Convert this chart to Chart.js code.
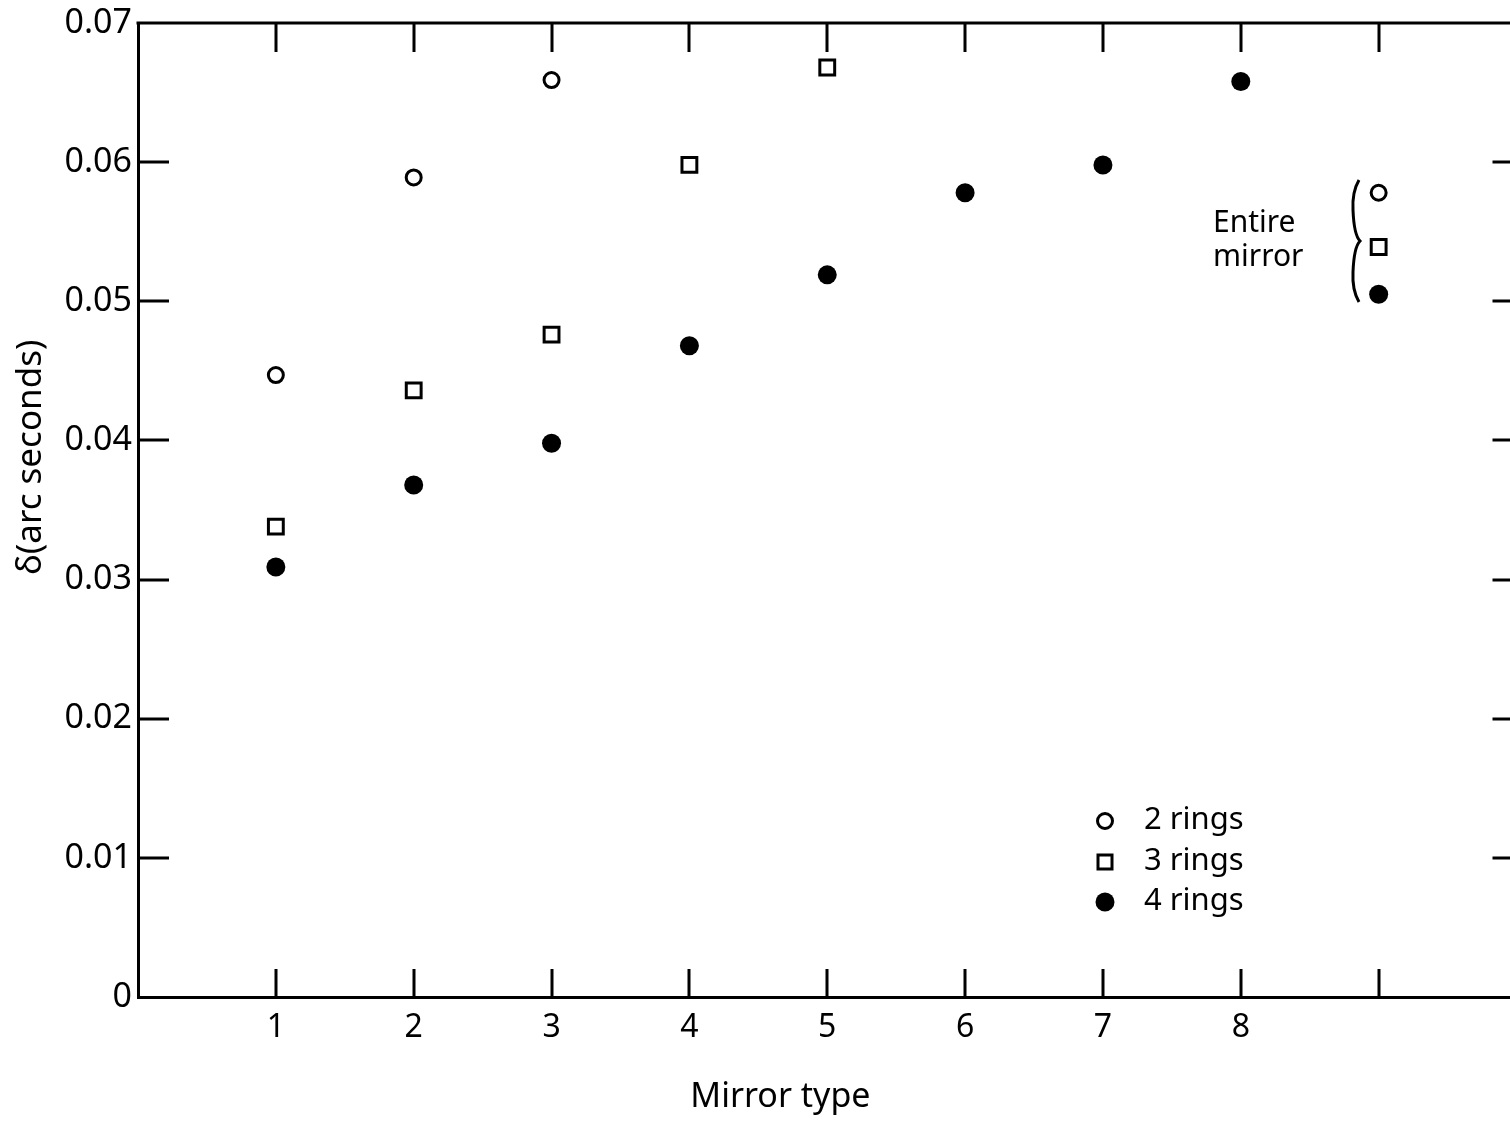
<!DOCTYPE html>
<html>
<head>
<meta charset="utf-8">
<script src="https://cdn.jsdelivr.net/npm/chart.js@4/dist/chart.umd.min.js"></script>
<style>
  html, body { margin: 0; padding: 0; background: #fff; overflow: hidden; width: 1510px; height: 1121px; }
  #wrap { position: absolute; left: 0; top: 0; width: 1530px; height: 1121px; }
</style>
</head>
<body>
<div id="wrap"><canvas id="c" width="1530" height="1121"></canvas></div>
<script>
// ---- data ----
const xTickLabels = ['1', '2', '3', '4', '5', '6', '7', '8'];
const xTickPositions = [1, 2, 3, 4, 5, 6, 7, 8, 9];
const yTickValues = [0, 0.01, 0.02, 0.03, 0.04, 0.05, 0.06, 0.07];

const mirrorTypes2 = [1, 2, 3, 9];
const rings2 = [0.0447, 0.0589, 0.0659, 0.0578];

const mirrorTypes3 = [1, 2, 3, 4, 5, 9];
const rings3 = [0.0338, 0.0436, 0.0476, 0.0598, 0.0668, 0.0539];

const mirrorTypes4 = [1, 2, 3, 4, 5, 6, 7, 8, 9];
const rings4 = [0.0309, 0.0368, 0.0398, 0.0468, 0.0519, 0.0578, 0.0598, 0.0658, 0.0505];

const seriesNames = ['2 rings', '3 rings', '4 rings'];
const entireLabel = ['Entire', 'mirror'];
const xTitle = 'Mirror type';
const yTitle = 'δ(arc seconds)';

const FONT = '"Noto Sans", "DejaVu Sans", sans-serif';
const pts = (xs, ys) => xs.map((x, i) => ({ x: x, y: ys[i] }));

const decor = {
  id: 'decor',
  afterDraw(chart) {
    const ctx = chart.ctx;
    const xs = chart.scales.x, ys = chart.scales.y;
    const a = chart.chartArea;
    ctx.save();
    ctx.strokeStyle = '#000';
    ctx.fillStyle = '#000';
    ctx.lineCap = 'butt';
    // top border
    ctx.lineWidth = 3;
    ctx.beginPath();
    ctx.moveTo(a.left - 1.5, a.top);
    ctx.lineTo(a.right, a.top);
    ctx.stroke();
    // x ticks (inward, top and bottom)
    xTickPositions.forEach(v => {
      const px = Math.round(xs.getPixelForValue(v));
      ctx.beginPath();
      ctx.moveTo(px, a.top); ctx.lineTo(px, a.top + 29);
      ctx.moveTo(px, a.bottom); ctx.lineTo(px, a.bottom - 28);
      ctx.stroke();
    });
    // y ticks (inward, left and right)
    yTickValues.forEach(v => {
      if (v <= 0 || v >= 0.07) return;
      const py = Math.round(ys.getPixelForValue(v));
      ctx.beginPath();
      ctx.moveTo(a.left, py); ctx.lineTo(a.left + 31, py);
      ctx.moveTo(a.right, py); ctx.lineTo(a.right - 24, py);
      ctx.stroke();
    });
    // x title
    ctx.font = '34px ' + FONT;
    ctx.textAlign = 'center';
    ctx.textBaseline = 'middle';
    ctx.fillText(xTitle, xs.getPixelForValue(4.66), 1097);
    // y title
    ctx.save();
    ctx.translate(31, ys.getPixelForValue(0.0388));
    ctx.rotate(-Math.PI / 2);
    ctx.font = '35px ' + FONT;
    ctx.fillText(yTitle, 0, 0);
    ctx.restore();

    // legend
    const lx = 1105;
    const ly = [821, 862, 902];
    ctx.lineWidth = 3;
    ctx.beginPath(); ctx.arc(lx, ly[0], 7.5, 0, Math.PI * 2); ctx.stroke();
    ctx.strokeRect(lx - 7, ly[1] - 7, 14, 14);
    ctx.beginPath(); ctx.arc(lx, ly[2], 9.5, 0, Math.PI * 2); ctx.fill();
    ctx.font = '31px ' + FONT;
    ctx.textAlign = 'left';
    seriesNames.forEach((s, i) => ctx.fillText(s, 1144, ly[i] - 1));

    // Entire mirror label
    ctx.font = '30px ' + FONT;
    ctx.fillText(entireLabel[0], 1213, 223);
    ctx.fillText(entireLabel[1], 1213, 257);
    // brace
    ctx.lineWidth = 3;
    ctx.beginPath();
    const bx = 1353, bt = 180, bb = 302, bm = 241;
    ctx.moveTo(bx + 6, bt);
    ctx.quadraticCurveTo(bx - 1, bt + 12, bx, bt + 30);
    ctx.quadraticCurveTo(bx + 1, bm - 6, bx + 7, bm);
    ctx.quadraticCurveTo(bx + 1, bm + 6, bx, bb - 30);
    ctx.quadraticCurveTo(bx - 1, bb - 12, bx + 6, bb);
    ctx.stroke();
    ctx.restore();
  }
};

new Chart(document.getElementById('c'), {
  type: 'scatter',
  data: {
    datasets: [
      { label: seriesNames[0], data: pts(mirrorTypes2, rings2), pointStyle: 'circle', pointRadius: 7.5,
        pointBorderWidth: 3, pointBorderColor: '#000', pointBackgroundColor: '#fff' },
      { label: seriesNames[1], data: pts(mirrorTypes3, rings3), pointStyle: 'rect', pointRadius: 10.5,
        pointBorderWidth: 3, pointBorderColor: '#000', pointBackgroundColor: '#fff' },
      { label: seriesNames[2], data: pts(mirrorTypes4, rings4), pointStyle: 'circle', pointRadius: 9.5,
        pointBorderWidth: 0, pointBorderColor: '#000', pointBackgroundColor: '#000' }
    ]
  },
  options: {
    responsive: false,
    animation: false,
    devicePixelRatio: 1,
    layout: { padding: { top: 20, right: 12, left: 0, bottom: 0 } },
    plugins: { legend: { display: false }, tooltip: { enabled: false } },
    scales: {
      x: {
        type: 'linear', min: 0, max: 10,
        afterFit(s) { s.height = 124; },
        grid: { display: false, drawTicks: false },
        border: { display: true, color: '#000', width: 3 },
        ticks: {
          stepSize: 1, padding: 12, color: '#000',
          font: { family: FONT, size: 32 },
          callback: (v) => (v >= 1 && v <= xTickLabels.length) ? xTickLabels[v - 1] : ''
        }
      },
      y: {
        type: 'linear', min: 0, max: 0.07,
        afterFit(s) { s.width = 138; },
        grid: { display: false, drawTicks: false },
        border: { display: true, color: '#000', width: 3 },
        ticks: {
          stepSize: 0.01, padding: 6, color: '#000',
          font: { family: FONT, size: 34, lineHeight: 1 },
          callback: (v) => {
            const t = yTickValues.find(u => Math.abs(u - v) < 1e-9);
            return t === undefined ? '' : (t === 0 ? '0' : t.toFixed(2));
          }
        }
      }
    }
  },
  plugins: [decor]
});
</script>
</body>
</html>
